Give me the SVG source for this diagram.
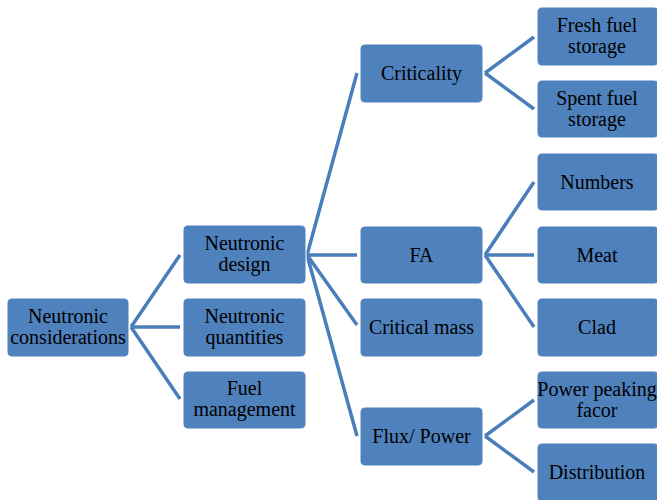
<svg xmlns="http://www.w3.org/2000/svg" width="657" height="500" viewBox="0 0 657 500">
<style>
.n{fill:#4F81BD;stroke:#ffffff;stroke-width:1}
.t{font-family:"Liberation Serif","Times New Roman",serif;font-size:20px;fill:#000;text-anchor:middle}
.c{stroke:#4A7EBB;stroke-width:3.5;fill:none;stroke-linecap:butt}
</style>
<rect width="657" height="500" fill="#fff"/>
<g id="connectors">
<path class="c" d="M131 327L180 255M131 327L180 327M131 327L180 399"/>
<path class="c" d="M307 255L357 73M307 255L357 255M307 255L357 325M307 255L357 436"/>
<path class="c" d="M485 73L534 37M485 73L534 109"/>
<path class="c" d="M485 255L534 182M485 255L534 255M485 255L534 327"/>
<path class="c" d="M485 436L534 400M485 436L534 472"/>
</g>
<g id="root"><rect class="n" x="7" y="298" width="122" height="59" rx="5"/><text class="t" x="68" y="323">Neutronic</text><text class="t" x="68" y="344">considerations</text></g>
<g id="design"><rect class="n" x="183" y="225" width="123" height="59" rx="5"/><text class="t" x="244.5" y="250">Neutronic</text><text class="t" x="244.5" y="271">design</text></g>
<g id="quantities"><rect class="n" x="183" y="298" width="123" height="59" rx="5"/><text class="t" x="244.5" y="323">Neutronic</text><text class="t" x="244.5" y="344">quantities</text></g>
<g id="fuelmgmt"><rect class="n" x="183" y="371" width="123" height="58" rx="5"/><text class="t" x="244.5" y="395">Fuel</text><text class="t" x="244.5" y="416">management</text></g>
<g id="criticality"><rect class="n" x="360" y="44" width="123" height="59" rx="5"/><text class="t" x="421.5" y="80">Criticality</text></g>
<g id="fa"><rect class="n" x="360" y="226" width="123" height="58" rx="5"/><text class="t" x="421.5" y="262">FA</text></g>
<g id="criticalmass"><rect class="n" x="360" y="298" width="123" height="59" rx="5"/><text class="t" x="421.5" y="334">Critical mass</text></g>
<g id="flux"><rect class="n" x="360" y="407" width="123" height="59" rx="5"/><text class="t" x="421.5" y="443">Flux/ Power</text></g>
<g id="fresh"><rect class="n" x="537" y="7" width="122" height="59" rx="5"/><text class="t" x="597" y="32">Fresh fuel</text><text class="t" x="597" y="53">storage</text></g>
<g id="spent"><rect class="n" x="537" y="80" width="122" height="58" rx="5"/><text class="t" x="597" y="105">Spent fuel</text><text class="t" x="597" y="126">storage</text></g>
<g id="numbers"><rect class="n" x="537" y="153" width="122" height="58" rx="5"/><text class="t" x="597" y="189">Numbers</text></g>
<g id="meat"><rect class="n" x="537" y="226" width="122" height="58" rx="5"/><text class="t" x="597" y="262">Meat</text></g>
<g id="clad"><rect class="n" x="537" y="298" width="122" height="59" rx="5"/><text class="t" x="597" y="334">Clad</text></g>
<g id="peaking"><rect class="n" x="537" y="371" width="122" height="58" rx="5"/><text class="t" x="597" y="396">Power peaking</text><text class="t" x="597" y="417">facor</text></g>
<g id="distribution"><rect class="n" x="537" y="443" width="122" height="59" rx="5"/><text class="t" x="597" y="479">Distribution</text></g>
</svg>
